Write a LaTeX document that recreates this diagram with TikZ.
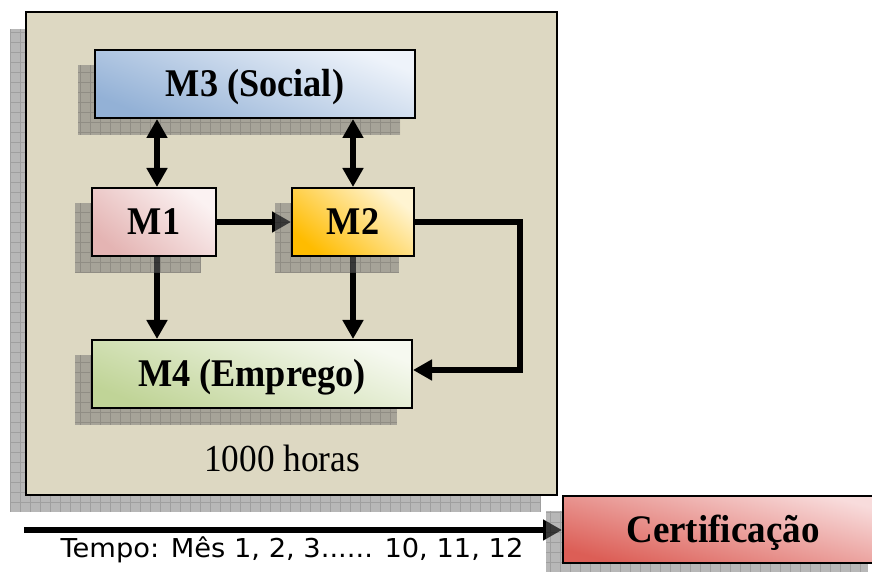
\documentclass[tikz,border=0pt]{standalone}
\usepackage{fontspec}
\setmainfont{Liberation Serif}
\newfontfamily\vfont{DejaVu Sans}
\usetikzlibrary{arrows.meta,calc}
\pgfdeclarelayer{bg}\pgfdeclarelayer{low}\pgfdeclarelayer{shad}
\pgfsetlayers{bg,low,shad,main}
\definecolor{tanbg}{HTML}{DDD8C2}
\definecolor{mthreed}{HTML}{93B1D6}
\definecolor{mthreel}{HTML}{EEF3FA}
\definecolor{moned}{HTML}{E4B4B3}
\definecolor{monel}{HTML}{FBF2F2}
\definecolor{mtwod}{HTML}{FFBC00}
\definecolor{mtwol}{HTML}{FFF4D2}
\definecolor{mfourd}{HTML}{C0D497}
\definecolor{mfourl}{HTML}{F6F9F0}
\definecolor{certd}{HTML}{DC5E56}
\definecolor{certl}{HTML}{F8DCDC}
\definecolor{shadc}{HTML}{707070}
\newcommand\tallt[1]{\scalebox{0.98}[1.06]{#1}}
\tikzset{
  box/.style={draw=black, line width=2pt, inner sep=0pt, minimum height=68pt,
    text height=25pt, text depth=0pt,
    font=\bfseries\fontsize{37}{40}\selectfont},
  conn/.style={line width=6.5pt, -{Triangle[length=19pt,width=20pt]}},
  dconn/.style={line width=6.5pt, {Triangle[length=19pt,width=20pt]}-{Triangle[length=19pt,width=20pt]}},
  shfill/.style={fill=shadc, opacity=0.5},
  shgrid/.style={draw=black, opacity=0.13, line width=0.8pt},
}
\newcommand\dropshadow[1]{%
  \begin{scope}
    \path ($(#1.south west)+(-16,-16)$) coordinate (sa)
          ($(#1.north east)+(-16,-16)$) coordinate (sb);
    \clip (sa) rectangle (sb);
    \fill[shfill] (sa) rectangle (sb);
    \draw[shgrid, step=10pt] (sa) grid (sb);
  \end{scope}}
\begin{document}
\begin{tikzpicture}[x=1pt,y=1pt]
\useasboundingbox (0,0) rectangle (872,572);

% main container with its shadow
\begin{pgfonlayer}{bg}
  \fill[white] (0,0) rectangle (872,572);
  \path (291.5,318.5) coordinate (fc);
  \begin{scope}
    \clip (10,60) rectangle (541,543);
    \fill[shfill] (10,60) rectangle (541,543);
    \draw[shgrid, step=10pt] (10,60) grid (541,543);
  \end{scope}
  \node[draw=black, line width=2pt, fill=tanbg, minimum width=531pt, minimum height=483pt, inner sep=0pt] (frame) at (fc) {};
\end{pgfonlayer}

% module nodes
\node[box, minimum width=320pt, bottom color=mthreed, top color=mthreel, shading angle=-22] (m3) at (255,488) {\tallt{M3 (Social)}};
\node[box, minimum width=124pt, bottom color=moned, top color=monel, shading angle=-40] (m1) at (154,350) {\tallt{M1}};
\node[box, minimum width=122pt, bottom color=mtwod, top color=mtwol, shading angle=-40] (m2) at (353,350) {\tallt{M2}};
\node[box, minimum width=320pt, bottom color=mfourd, top color=mfourl, shading angle=-22] (m4) at (252,198) {\tallt{M4 (Emprego)}};
\node[box, minimum width=320pt, minimum height=67pt, text height=26pt, bottom color=certd, top color=certl, shading angle=-15] (cert) at (723,42.5) {\scalebox{0.95}[1]{\fontsize{39}{42}\selectfont Certificação}};

\node[font=\fontsize{36}{40}\selectfont, anchor=base, inner sep=0pt] (horas) at (282,100) {\tallt{1000 horas}};
\node[font=\vfont\fontsize{26}{30}\selectfont, anchor=base, inner sep=0pt] (tempo) at (292,14) {\scalebox{1.05}[1]{Tempo: Mês 1, 2, 3...... 10, 11, 12}};

% shadows
\begin{pgfonlayer}{shad}
  \dropshadow{m3}
  \dropshadow{m1}
  \dropshadow{m2}
  \dropshadow{m4}
  \dropshadow{cert}
\end{pgfonlayer}

% lower connectors (partly under shadows)
\coordinate (t0) at (24,42);
\begin{pgfonlayer}{low}
  \draw[conn] (m1.east) -- (m2.west);
  \draw[conn] ([xshift=3pt]m1.south) -- ([xshift=3pt]m1.south |- m4.north);
  \draw[conn] (m2.south) -- (m2.south |- m4.north);
  \draw[conn] (t0) -- (t0 -| cert.west);
\end{pgfonlayer}

% upper connectors
\coordinate (c1) at (520,202);
\draw[dconn] ([xshift=3pt]m1.north |- m3.south) -- ([xshift=3pt]m1.north);
\draw[dconn] (m2.north |- m3.south) -- (m2.north);
\draw[conn] (m2.east) -| (c1) -- ([yshift=4pt]m4.east);
\end{tikzpicture}
\end{document}
